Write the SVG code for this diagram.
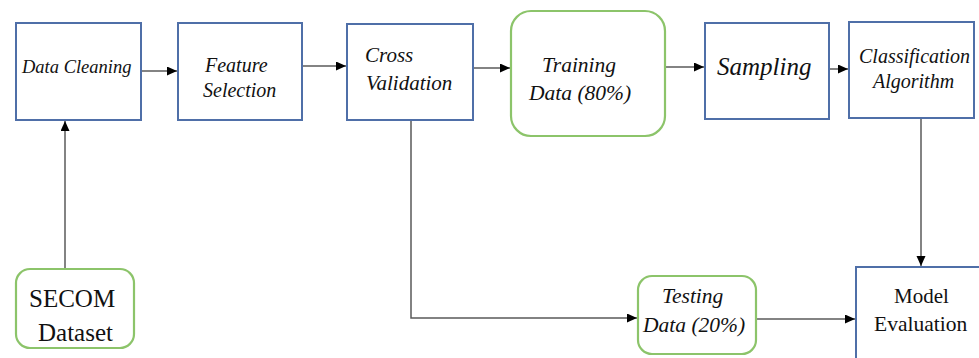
<svg xmlns="http://www.w3.org/2000/svg" width="979" height="358" viewBox="0 0 979 358">
  <style>
    .box { fill: #ffffff; stroke: #4f6fa8; stroke-width: 2; }
    .rbox { fill: #ffffff; stroke: #8cc46a; stroke-width: 2.2; }
    .lbl { font-family: "Liberation Serif", "Times New Roman", serif; font-style: italic; fill: #111; }
    .plain { font-family: "Liberation Serif", "Times New Roman", serif; fill: #111; }
    .conn { fill: none; stroke: #5a5a5a; stroke-width: 1.5; }
  </style>
  <defs>
    <marker id="arrow" markerUnits="userSpaceOnUse" markerWidth="11" markerHeight="10" refX="10" refY="4.5" orient="auto">
      <path d="M0,0 L10,4.5 L0,9 z" fill="#000"/>
    </marker>
  </defs>
  <rect width="979" height="358" fill="#ffffff"/>

  <!-- connectors -->
  <g id="connectors">
    <line class="conn" x1="141" y1="71" x2="177" y2="71" marker-end="url(#arrow)"/>
    <line class="conn" x1="302" y1="66" x2="346" y2="66" marker-end="url(#arrow)"/>
    <line class="conn" x1="473" y1="68" x2="510" y2="68" marker-end="url(#arrow)"/>
    <line class="conn" x1="665" y1="67" x2="704" y2="67" marker-end="url(#arrow)"/>
    <line class="conn" x1="829" y1="69" x2="848" y2="69" marker-end="url(#arrow)"/>
    <line class="conn" x1="65" y1="269" x2="65" y2="121" marker-end="url(#arrow)"/>
    <polyline class="conn" points="411,120 411,318 637,318" marker-end="url(#arrow)"/>
    <line class="conn" x1="756" y1="319" x2="855" y2="319" marker-end="url(#arrow)"/>
    <line class="conn" x1="921" y1="118" x2="921" y2="266" marker-end="url(#arrow)"/>
  </g>

  <g id="data-cleaning">
    <rect class="box" x="16" y="23" width="125" height="97"/>
    <text class="lbl" x="22" y="73" font-size="18.5">Data Cleaning</text>
  </g>

  <g id="feature-selection">
    <rect class="box" x="178" y="23" width="124" height="97"/>
    <text class="lbl" x="205" y="72" font-size="20">Feature</text>
    <text class="lbl" x="203" y="97" font-size="20">Selection</text>
  </g>

  <g id="cross-validation">
    <rect class="box" x="347" y="24" width="126" height="96"/>
    <text class="lbl" x="365" y="62" font-size="21">Cross</text>
    <text class="lbl" x="366" y="90" font-size="21">Validation</text>
  </g>

  <g id="training-data">
    <rect class="rbox" x="511" y="11" width="154" height="125" rx="20"/>
    <text class="lbl" x="542" y="72" font-size="21.5">Training</text>
    <text class="lbl" x="529" y="100" font-size="21.5">Data (80%)</text>
  </g>

  <g id="sampling">
    <rect class="box" x="705" y="23" width="124" height="96"/>
    <text class="lbl" x="717" y="75" font-size="25">Sampling</text>
  </g>

  <g id="classification-algorithm">
    <rect class="box" x="849" y="22" width="125" height="96"/>
    <text class="lbl" x="859" y="63" font-size="20">Classification</text>
    <text class="lbl" x="873" y="88" font-size="20">Algorithm</text>
  </g>

  <g id="secom-dataset">
    <rect class="rbox" x="16" y="269" width="118" height="79" rx="14"/>
    <text class="plain" x="29" y="307" font-size="25">SECOM</text>
    <text class="plain" x="38" y="341" font-size="25">Dataset</text>
  </g>

  <g id="testing-data">
    <rect class="rbox" x="638" y="276" width="118" height="78" rx="14"/>
    <text class="lbl" x="662" y="303" font-size="21.5">Testing</text>
    <text class="lbl" x="643" y="332" font-size="21.5">Data (20%)</text>
  </g>

  <g id="model-evaluation">
    <rect class="box" x="856" y="267" width="140" height="110"/>
    <text class="plain" x="894" y="303" font-size="21">Model</text>
    <text class="plain" x="874" y="331" font-size="21.5">Evaluation</text>
  </g>
</svg>
